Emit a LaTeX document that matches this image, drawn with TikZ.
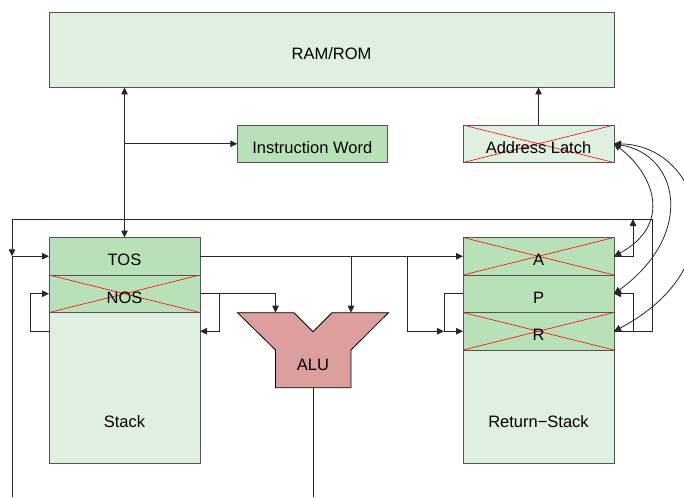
\documentclass[tikz,border=0pt]{standalone}
\usepackage{fontspec}
\setmainfont{Liberation Sans}
\usetikzlibrary{arrows.meta}
\definecolor{ramgreen}{RGB}{224,240,224}
\definecolor{reggreen}{RGB}{185,225,185}
\definecolor{alured}{RGB}{221,158,158}
\definecolor{boxgray}{RGB}{85,85,85}
\tikzset{
  unit/.style={draw=boxgray, line width=0.8pt, fill=ramgreen, inner sep=0pt, outer sep=0pt,
    text height=19pt, text depth=0pt, font=\fontsize{16.5}{20}\selectfont},
  reg/.style={unit, fill=reggreen},
  crossed/.style={path picture={\draw[red, line width=0.6pt]
    (path picture bounding box.north west) -- (path picture bounding box.south east)
    (path picture bounding box.south west) -- (path picture bounding box.north east);}},
  lbl/.style={inner sep=0pt, text height=19pt, text depth=0pt, font=\fontsize{16.5}{20}\selectfont},
  wire/.style={draw=black!85, line width=0.8pt},
  >={Triangle[length=7pt,width=6.5pt]}
}
\begin{document}
\begin{tikzpicture}[x=1pt,y=1pt]
\useasboundingbox (0,0) rectangle (684,-497);
% memory and latches
\node[unit, minimum width=565pt, minimum height=75.5pt] (ram) at (331.5,-49.75) {RAM/ROM};
\node[reg, minimum width=150pt, minimum height=37.5pt] (iw) at (312.3,-143.8) {Instruction Word};
\node[unit, crossed, minimum width=151pt, minimum height=37.5pt] (latch) at (538.5,-143.8) {Address Latch};
% data stack
\node[unit, minimum width=151pt, minimum height=225.5pt] (stack) at (124.5,-350.25) {};
\node[lbl] (stacklbl) at (124.5,-417.5) {Stack};
\node[reg, minimum width=151pt, minimum height=37.5pt] (tos) at (124.5,-256.25) {TOS};
\node[reg, crossed, minimum width=151pt, minimum height=37.5pt] (nos) at (124.5,-293.75) {NOS};
% return stack
\node[unit, minimum width=151pt, minimum height=225.5pt] (rstack) at (538.5,-350.25) {};
\node[lbl] (rstacklbl) at (538.5,-417.5) {Return−Stack};
\node[reg, crossed, minimum width=151pt, minimum height=37.5pt] (ra) at (538.5,-256.25) {A};
\node[reg, minimum width=151pt, minimum height=37.5pt] (rp) at (538.5,-293.75) {P};
\node[reg, crossed, minimum width=151pt, minimum height=37.5pt] (rr) at (538.5,-331.25) {R};
% ALU
\draw[draw=black, line width=0.8pt, fill=alured] (237.5,-312.7) -- (294,-312.7) -- (313,-331.7) -- (332,-312.7)
  -- (388.5,-312.7) -- (351,-350) -- (351,-387.7) -- (275.5,-387.7) -- (275.5,-350) -- cycle;
\node[lbl] (alu) at (313,-360.5) {ALU};
\coordinate (alul) at (275.5,-312.7);
\coordinate (alur) at (351,-312.7);
\coordinate (aluo) at (313,-387.7);
% junctions
\coordinate (tj) at (407,-256.25);
\coordinate (pj) at (444,-331.25);
\coordinate (nj) at (219,-293.75);
\coordinate (aup) at (633,-219);
\coordinate (rj) at (633,-331.25);
\coordinate (busr) at (652,-219);
\coordinate (busl) at (12,-219);
\coordinate (busj) at (12,-256.25);
\coordinate (busb) at (12,-497);
% memory bus
\draw[wire, <->] (tos.north) -- (tos.north |- ram.south);
\draw[wire, ->] (tos.north |- iw.west) -- (iw.west);
\draw[wire, ->] (latch.north) -- (latch.north |- ram.south);
% data paths
\draw[wire, ->] (tos.east) -- (ra.west);
\draw[wire, ->] (tos.east -| alur) -- (alur);
\draw[wire, ->] (tj) |- (pj);
\draw[wire, ->] (rp.west) -| (pj) -- (rr.west);
\draw[wire, ->] (nos.east) -| (alul);
\draw[wire, ->] (nj) |- (stack.east |- pj);
\draw[wire, ->] (stack.west |- pj) -- ++(-19,0) |- (nos.west);
\draw[wire] (aluo) -- (aluo |- busb);
% return bus
\draw[wire] (rr.east) -| (busr) -- (busl);
\draw[wire, ->] (busl) -- (busj);
\draw[wire] (busj) -- (busb);
\draw[wire, ->] (busj) -- (tos.west);
\draw[wire, ->] (ra.east) -| (aup);
\draw[wire, ->] (rj) |- (rp.east);
% address latch loads
\draw[wire, <->] (latch.east) .. controls (655,-175) and (672,-225) .. (ra.east);
\draw[wire, <->] (latch.east) .. controls (680,-155) and (695,-235) .. (rp.east);
\draw[wire, <->] (latch.east) .. controls (700,-145) and (740,-265) .. (rr.east);
\end{tikzpicture}
\end{document}
